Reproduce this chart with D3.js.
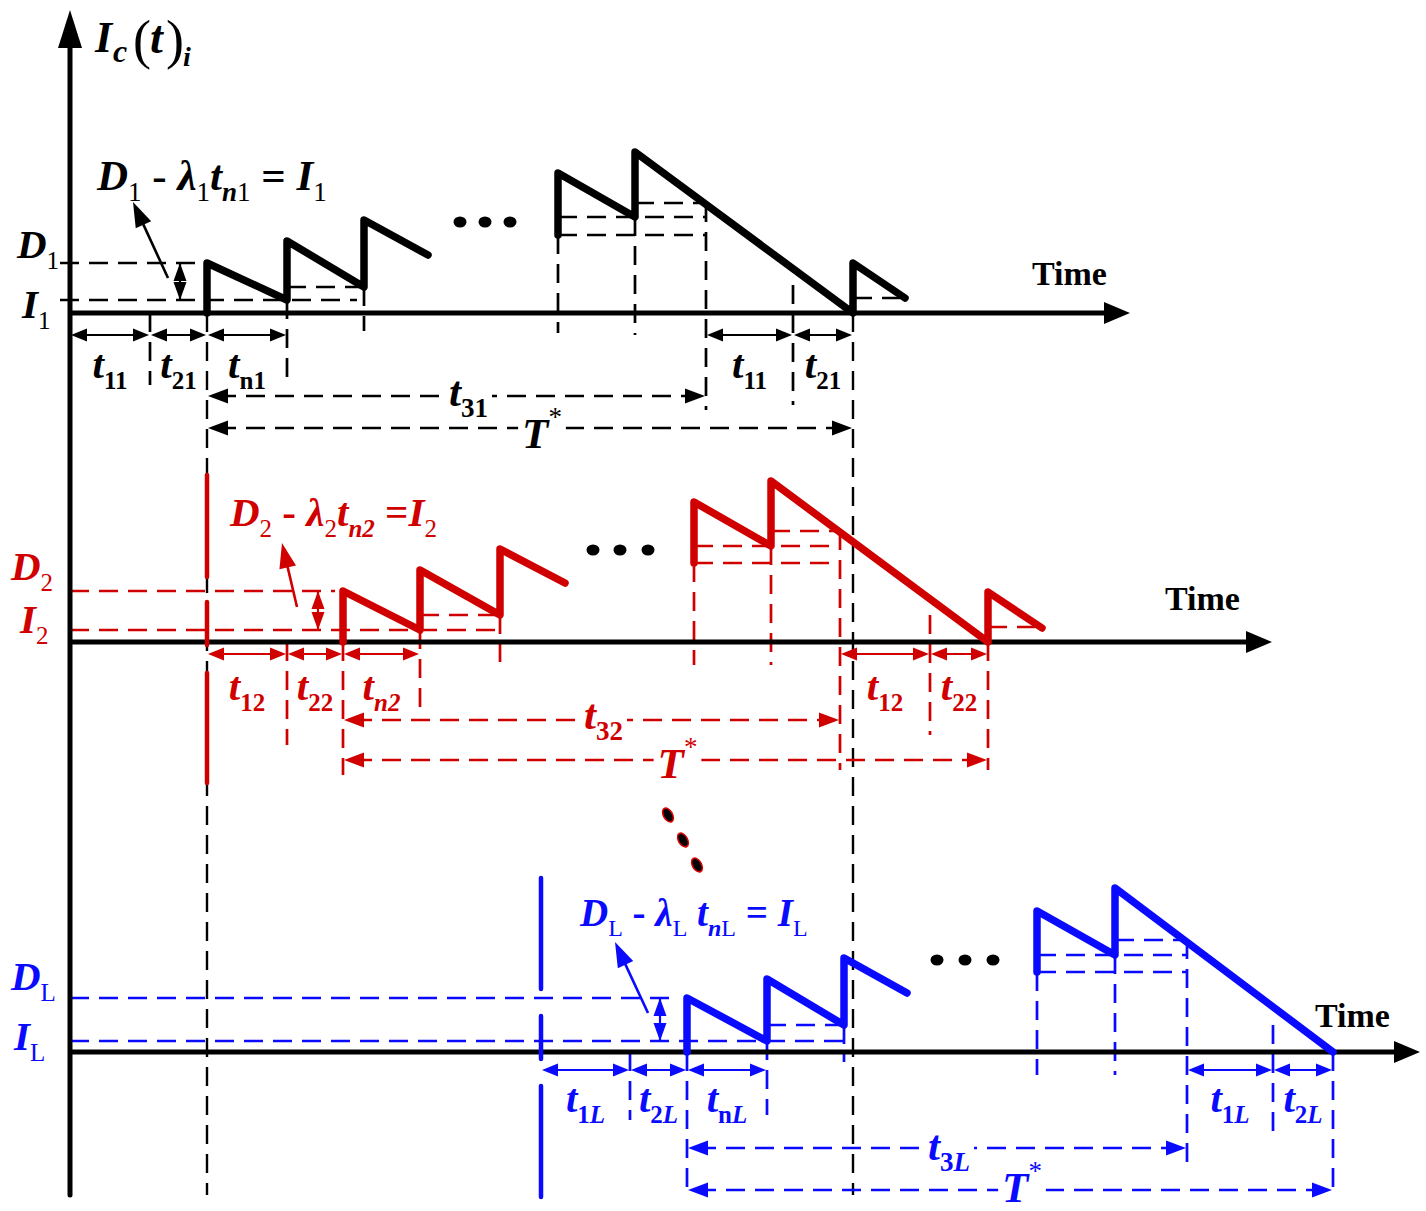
<!DOCTYPE html>
<html>
<head>
<meta charset="utf-8">
<script src="https://cdn.jsdelivr.net/npm/d3@7"></script>
<style>
  body { margin: 0; background: #fff; }
  text { white-space: pre; }
</style>
</head>
<body>
<svg id="chart" width="1426" height="1211"></svg>
<script>
// ---------------- data ----------------
// time in t-units, current in I-units
const timeDomain = [0, 135];
const currentDomain = [0, 16];

// channel 1 (black)
const ch1Levels = [5.0, 1.3];                       // [D1, I1]
const ch1Start = [[13.7,0],[13.7,5.0],[21.7,1.3],[21.7,7.2],[29.4,2.6],[29.4,9.3],[35.8,5.8]];
const ch1End   = [[48.8,7.8],[48.8,14.0],[56.5,9.6],[56.5,16.1],[78.3,0],[78.3,5.0],[83.5,1.5]];
const ch1GuideT   = [8, 13.7, 21.7, 29.4, 48.8, 56.5, 63.6, 72.3, 78.3];
const ch1GuideTop = [0, 0, 1.3, 2.6, 7.8, 9.6, 11.0, 2.8, 0];
const ch1HGuides  = [[5.0,-1,13.0],[1.3,-1,28.7],[2.6,21.7,29.4],[11.0,56.5,63.6],[9.6,48.8,63.6],[7.8,48.8,63.6],[1.5,78.3,83.0]];
const ch1Dims     = [[0,8],[8,13.7],[13.7,21.7],[63.6,72.3],[72.3,78.3]];
const ch1DimText  = [[["t","m"],["11","sb"]],[["t","m"],["21","sb"]],[["t","m"],["n1","sb"]],[["t","m"],["11","sb"]],[["t","m"],["21","sb"]]];
const ch1Periods  = [[13.7,63.6],[13.7,78.3]];
const ch1PeriodText = [[["t","m"],["31","sb"]],[["T","m"],["*","sp"]]];
const ch1Dots = [39.0, 41.5, 44.0];
const ch1DotLevel = 9.1;
const ch1Formula = [["D","m"],["1","s"],[" - ","o"],["λ","m"],["1","s"],["t","m"],["n","si"],["1","s"],[" = ","o"],["I","m"],["1","s"]];
const ch1AxisText = [[["D","m"],["1","s"]],[["I","m"],["1","s"]]];
const ch1Pointer = [[9.8,3.5],[6.3,11.1]];
const ch1Bracket = 11.0;

// channel 2 (red)
const ch2Levels = [5.1, 1.2];                       // [D2, I2]
const ch2Start = [[27.3,0],[27.3,5.1],[35.0,1.2],[35.0,7.2],[43.0,2.7],[43.0,9.3],[49.5,5.9]];
const ch2End   = [[62.4,7.9],[62.4,14.0],[70.1,9.6],[70.1,16.1],[91.8,0],[91.8,5.0],[97.2,1.4]];
const ch2GuideT   = [21.7, 27.3, 35.0, 43.0, 62.4, 70.1, 77.0, 86.0, 91.8];
const ch2GuideTop = [0, 0, 1.2, 2.7, 7.9, 9.6, 11.1, 2.7, 0];
const ch2HGuides  = [[5.1,0,26.5],[1.2,0,43.0],[2.7,35.0,43.0],[11.1,70.1,77.0],[9.6,62.4,77.0],[7.9,62.4,77.0],[1.5,91.8,96.5]];
const ch2Dims     = [[13.7,21.7],[21.7,27.3],[27.3,35.0],[77.0,86.0],[86.0,91.8]];
const ch2DimText  = [[["t","m"],["12","sb"]],[["t","m"],["22","sb"]],[["t","m"],["n2","si"]],[["t","m"],["12","sb"]],[["t","m"],["22","sb"]]];
const ch2Periods  = [[27.3,77.0],[27.3,91.8]];
const ch2PeriodText = [[["t","m"],["32","sb"]],[["T","m"],["*","sp"]]];
const ch2Dots = [52.3, 55.0, 57.8];
const ch2DotLevel = 9.2;
const ch2Formula = [["D","m"],["2","s"],[" - ","o"],["λ","m"],["2","s"],["t","m"],["n2","si"],[" =","o"],["I","m"],["2","s"]];
const ch2AxisText = [[["D","m"],["2","s"]],[["I","m"],["2","s"]]];
const ch2Pointer = [[22.7,3.5],[21.2,9.9]];
const ch2Bracket = 24.8;

// channel L (blue)
const chLLevels = [5.4, 1.1];                       // [DL, IL]
const chLStart = [[61.7,0],[61.7,5.4],[69.7,1.1],[69.7,7.3],[77.4,2.7],[77.4,9.4],[83.7,5.9]];
const chLEnd   = [[96.7,8.0],[96.7,14.1],[104.5,9.7],[104.5,16.4],[126.3,0]];
const chLGuideT   = [56.0, 61.7, 69.7, 77.4, 96.7, 104.5, 111.7, 120.3, 126.3];
const chLGuideTop = [0, 0, 1.1, 2.7, 8.0, 9.7, 11.2, 2.7, 0];
const chLHGuides  = [[5.4,0,60.0],[1.1,0,77.4],[2.7,69.7,77.4],[11.2,104.5,111.7],[9.7,96.7,111.7],[8.0,96.7,111.7]];
const chLDims     = [[47.1,56.0],[56.0,61.7],[61.7,69.7],[111.7,120.3],[120.3,126.3]];
const chLDimText  = [[["t","m"],["1","sb"],["L","si"]],[["t","m"],["2","sb"],["L","si"]],[["t","m"],["n","sb"],["L","si"]],[["t","m"],["1","sb"],["L","si"]],[["t","m"],["2","sb"],["L","si"]]];
const chLPeriods  = [[61.7,111.7],[61.7,126.3]];
const chLPeriodText = [[["t","m"],["3","sb"],["L","si"]],[["T","m"],["*","sp"]]];
const chLDots = [86.7, 89.5, 92.3];
const chLDotLevel = 9.2;
const chLFormula = [["D","m"],["L","s"],[" - ","o"],["λ","m"],["L","s"],[" t","m"],["n","si"],["L","s"],[" = ","o"],["I","m"],["L","s"]];
const chLAxisText = [[["D","m"],["L","s"]],[["I","m"],["L","s"]]];
const chLPointer = [[57.8,3.9],[54.5,11.0]];
const chLBracket = 59.0;

// vertical ellipsis between channel 2 and channel L (channel-2 frame)
const gapDotsT = [59.8, 61.3, 62.7];
const gapDotsLevel = [-17.3, -19.8, -22.3];

// ---------------- layout ----------------
const W = 1426, H = 1211;
const AXIS_X = 70, BOTTOM = 1195;
const FONT = "'Liberation Serif','Times New Roman',Times,serif";
const DASH = "19,10";
const svg = d3.select("#chart");
const x = d3.scaleLinear().domain(timeDomain).range([AXIS_X, AXIS_X + 1350]);

const channels = [
  { color: "#000000", base: 313, tip: 1130, timeX: 1032, timeY: 285,
    levels: ch1Levels, teeth: [ch1Start, ch1End], gT: ch1GuideT, gTop: ch1GuideTop,
    gDepth: [72, BOTTOM - 313, 67, 18, 20, 22, 97, 92, BOTTOM - 313],
    hGuides: ch1HGuides, dims: ch1Dims, dimText: ch1DimText, dimRow: 22, dimLabelY: 65,
    periods: ch1Periods, periodText: ch1PeriodText, periodRows: [83, 115], periodLabelDy: [10, 20],
    dots: ch1Dots, dotLevel: ch1DotLevel, formula: ch1Formula, formulaPos: [97, 190], fSize: 43,
    axisText: ch1AxisText, axisTextPos: [[17, 258], [22, 318]],
    pointer: ch1Pointer, bracket: ch1Bracket, marker: null },
  { color: "#d00000", base: 642, tip: 1272, timeX: 1165, timeY: 610,
    levels: ch2Levels, teeth: [ch2Start, ch2End], gT: ch2GuideT, gTop: ch2GuideTop,
    gDepth: [103, 133, 68, 20, 23, 23, 128, 93, 128],
    hGuides: ch2HGuides, dims: ch2Dims, dimText: ch2DimText, dimRow: 12, dimLabelY: 58,
    periods: ch2Periods, periodText: ch2PeriodText, periodRows: [78, 118], periodLabelDy: [9, 18],
    dots: ch2Dots, dotLevel: ch2DotLevel, formula: ch2Formula, formulaPos: [230, 526], fSize: 41,
    axisText: ch2AxisText, axisTextPos: [[11, 580], [20, 633]],
    pointer: ch2Pointer, bracket: ch2Bracket,
    marker: { t: 13.7, top: 475, bottom: 783, dash: "102,25,43,28,110" } },
  { color: "#0a0aff", base: 1052, tip: 1420, timeX: 1315, timeY: 1027,
    levels: chLLevels, teeth: [chLStart, chLEnd], gT: chLGuideT, gTop: chLGuideTop,
    gDepth: [68, 143, 63, 10, 23, 23, 113, 88, 143],
    hGuides: chLHGuides, dims: chLDims, dimText: chLDimText, dimRow: 18, dimLabelY: 60,
    periods: chLPeriods, periodText: chLPeriodText, periodRows: [96, 138], periodLabelDy: [12, 12],
    dots: chLDots, dotLevel: chLDotLevel, formula: chLFormula, formulaPos: [580, 926], fSize: 39,
    axisText: chLAxisText, axisTextPos: [[11, 990], [14, 1050]],
    pointer: chLPointer, bracket: chLBracket,
    marker: { t: 47.1, top: 878, bottom: 1197, dash: "111,27,43,27,112" } }
];

// text style sets: m main, s sub (regular), sb sub bold, si sub bold italic, sp superscript, o operator
function styleSet(main) {
  const sub = Math.round(main * 0.62);
  return {
    m:  { size: main, bold: true,  italic: true,  shift: 0 },
    o:  { size: main, bold: true,  italic: false, shift: 0 },
    s:  { size: sub,  bold: false, italic: false, shift: Math.round(main * 0.26) },
    sb: { size: sub,  bold: true,  italic: false, shift: Math.round(main * 0.26) },
    si: { size: sub,  bold: true,  italic: true,  shift: Math.round(main * 0.26) },
    sp: { size: sub,  bold: false, italic: false, shift: -Math.round(main * 0.5) }
  };
}

function richText(g, parts, px, py, color, main, anchor) {
  const st = styleSet(main);
  const t = g.append("text").attr("x", px).attr("y", py)
    .attr("fill", color).attr("text-anchor", anchor || "start")
    .style("font-family", FONT);
  let off = 0;
  parts.forEach(([s, k]) => {
    const d = st[k];
    t.append("tspan").text(s)
      .attr("dy", d.shift - off)
      .style("font-size", d.size + "px")
      .style("font-weight", d.bold ? "bold" : "normal")
      .style("font-style", d.italic ? "italic" : "normal");
    off = d.shift;
  });
  return t;
}

function head(g, tx, ty, ang, len, hw, color) {
  const c = Math.cos(ang), s = Math.sin(ang);
  const bx = tx - c * len, by = ty - s * len;
  g.append("path")
    .attr("d", `M${tx},${ty}L${bx - s * hw},${by + c * hw}L${bx + s * hw},${by - c * hw}Z`)
    .attr("fill", color);
}

function dashed(g, x1, y1, x2, y2, color, w, dash) {
  g.append("line").attr("x1", x1).attr("y1", y1).attr("x2", x2).attr("y2", y2)
    .attr("stroke", color).attr("stroke-width", w || 2.7)
    .attr("stroke-dasharray", dash || DASH);
}

const gGuides = svg.append("g");
const gAxes = svg.append("g");
const gMarks = svg.append("g");
const gText = svg.append("g");

// y axis with arrow
gAxes.append("line").attr("x1", AXIS_X).attr("y1", 40).attr("x2", AXIS_X).attr("y2", BOTTOM)
  .attr("stroke", "#000").attr("stroke-width", 5).attr("stroke-linecap", "round");
head(gAxes, AXIS_X, 10, -Math.PI / 2, 38, 12, "#000");
richText(gText, [["I", "m"]], 95, 52, "#000", 44);
gText.append("text").attr("x", 113).attr("y", 62).text("c")
  .style("font-family", FONT).style("font-size", "32px").style("font-weight", "bold").style("font-style", "italic");
gText.append("text").attr("x", 133).attr("y", 58).text("(")
  .style("font-family", FONT).style("font-size", "54px");
gText.append("text").attr("x", 150).attr("y", 53).text("t")
  .style("font-family", FONT).style("font-size", "46px").style("font-weight", "bold").style("font-style", "italic");
gText.append("text").attr("x", 166).attr("y", 58).text(")")
  .style("font-family", FONT).style("font-size", "54px");
gText.append("text").attr("x", 183).attr("y", 66).text("i")
  .style("font-family", FONT).style("font-size", "28px").style("font-weight", "bold").style("font-style", "italic");

channels.forEach((c, ci) => {
  const y = d3.scaleLinear().domain(currentDomain).range([c.base, c.base - 160]);
  const line = d3.line().x(d => x(d[0])).y(d => y(d[1]));

  // horizontal guide lines
  c.hGuides.forEach(([lv, t0, t1]) => dashed(gGuides, x(t0), y(lv), x(t1), y(lv), c.color));
  // vertical guide lines
  c.gT.forEach((t, i) => {
    const long = ci === 0 && (i === 1 || i === 8);
    dashed(gGuides, x(t), y(c.gTop[i]), x(t), c.base + c.gDepth[i], c.color, long ? 2.4 : 2.7);
  });

  // time axis
  gAxes.append("line").attr("x1", AXIS_X).attr("y1", c.base).attr("x2", c.tip - 20).attr("y2", c.base)
    .attr("stroke", "#000").attr("stroke-width", 5);
  head(gAxes, c.tip, c.base, 0, 26, 11, "#000");
  gText.append("text").attr("x", c.timeX).attr("y", c.timeY).text("Time")
    .style("font-family", FONT).style("font-size", "34px").style("font-weight", "bold");

  // channel start marker
  if (c.marker) {
    gMarks.append("line").attr("x1", x(c.marker.t)).attr("x2", x(c.marker.t))
      .attr("y1", c.marker.top).attr("y2", c.marker.bottom)
      .attr("stroke", c.color).attr("stroke-width", 4.5).attr("stroke-dasharray", c.marker.dash)
      .attr("stroke-linecap", "round");
  }

  // sawtooth current waveform
  c.teeth.forEach(seg => {
    gMarks.append("path").attr("d", line(seg)).attr("fill", "none")
      .attr("stroke", c.color).attr("stroke-width", 7.5)
      .attr("stroke-linejoin", "round").attr("stroke-linecap", "round");
  });

  // ellipsis dots
  c.dots.forEach(t => gMarks.append("ellipse").attr("cx", x(t)).attr("cy", y(c.dotLevel))
    .attr("rx", 6.5).attr("ry", 5.5).attr("fill", "#000"));

  // level bracket (D - I)
  const bx = x(c.bracket), yD = y(c.levels[0]), yI = y(c.levels[1]);
  gMarks.append("line").attr("x1", bx).attr("x2", bx).attr("y1", yD).attr("y2", yI)
    .attr("stroke", c.color).attr("stroke-width", 2.2);
  head(gMarks, bx, yD, -Math.PI / 2, 18, 6.5, c.color);
  head(gMarks, bx, yI, Math.PI / 2, 18, 6.5, c.color);

  // pointer arrow to formula
  const [p0, p1] = c.pointer;
  const fx = x(p0[0]), fy = y(p0[1]), tx = x(p1[0]), ty = y(p1[1]);
  const ang = Math.atan2(ty - fy, tx - fx);
  gMarks.append("line").attr("x1", fx).attr("y1", fy)
    .attr("x2", tx - Math.cos(ang) * 15).attr("y2", ty - Math.sin(ang) * 15)
    .attr("stroke", c.color).attr("stroke-width", 2.6);
  head(gMarks, tx, ty, ang, 25, 8.5, c.color);

  // dimension arrows under the axis
  c.dims.forEach(([a, b], i) => {
    const yy = c.base + c.dimRow, xa = x(a), xb = x(b);
    gMarks.append("line").attr("x1", xa + 8).attr("x2", xb - 8).attr("y1", yy).attr("y2", yy)
      .attr("stroke", c.color).attr("stroke-width", 2.2);
    head(gMarks, xa + 1, yy, Math.PI, 16, 6.5, c.color);
    head(gMarks, xb - 1, yy, 0, 16, 6.5, c.color);
    richText(gText, c.dimText[i], (xa + xb) / 2, c.base + c.dimLabelY, c.color, 41, "middle");
  });

  // period arrows (t3, T*)
  c.periods.forEach(([a, b], i) => {
    const yy = c.base + c.periodRows[i], xa = x(a), xb = x(b);
    dashed(gGuides, xa + 10, yy, xb - 10, yy, c.color, 2.7);
    head(gMarks, xa + 1, yy, Math.PI, 20, 7.5, c.color);
    head(gMarks, xb - 1, yy, 0, 20, 7.5, c.color);
    const lbl = richText(gText, c.periodText[i], (xa + xb) / 2 + 12, yy + c.periodLabelDy[i], c.color, 43, "middle");
    const bb = lbl.node().getBBox();
    gText.insert("rect", () => lbl.node()).attr("x", bb.x - 4).attr("y", yy - 4)
      .attr("width", bb.width + 8).attr("height", 8).attr("fill", "#fff");
  });

  // formula and level labels
  richText(gText, c.formula, c.formulaPos[0], c.formulaPos[1], c.color, c.fSize);
  richText(gText, c.axisText[0], c.axisTextPos[0][0], c.axisTextPos[0][1], c.color, 41);
  richText(gText, c.axisText[1], c.axisTextPos[1][0], c.axisTextPos[1][1], c.color, 41);

  // vertical ellipsis between channel 2 and channel L
  if (ci === 1) {
    gapDotsT.forEach((t, i) => gMarks.append("ellipse")
      .attr("transform", `translate(${x(t)},${y(gapDotsLevel[i])}) rotate(-30)`)
      .attr("rx", 4.5).attr("ry", 7.5).attr("fill", "#000").attr("stroke", "#e00000").attr("stroke-width", 1.5));
  }
});
</script>
</body>
</html>
